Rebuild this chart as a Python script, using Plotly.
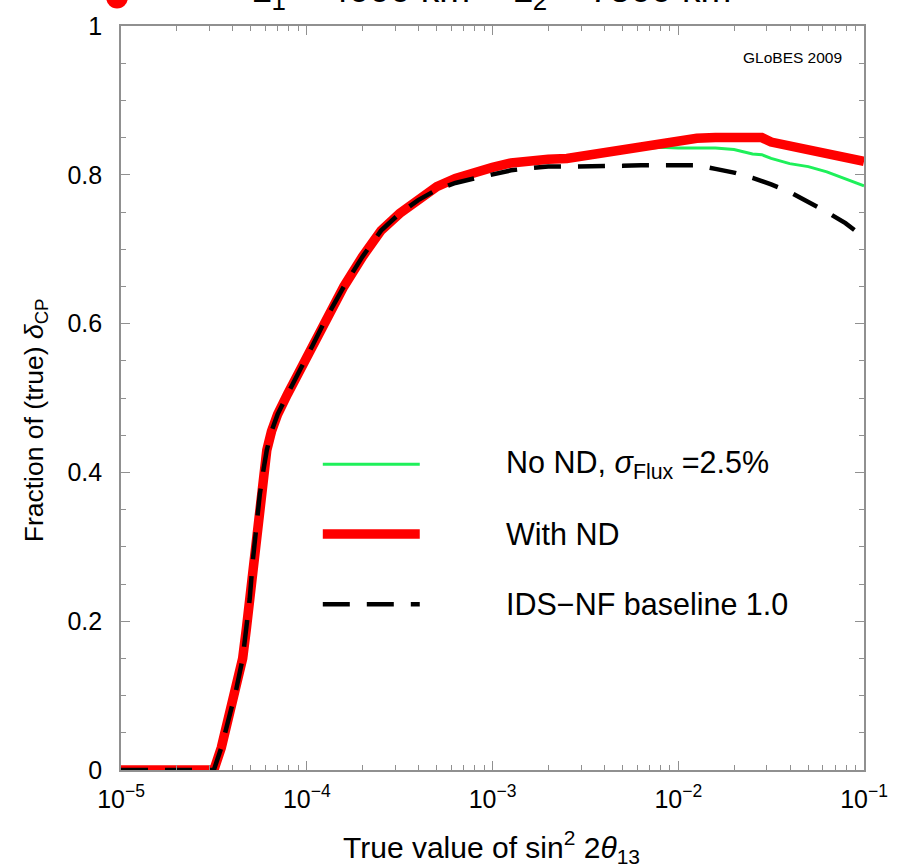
import plotly.graph_objects as go

# log10 of true sin^2(2 theta13)
log10_s22t13 = [-5.0, -4.8, -4.6, -4.5, -4.46, -4.42, -4.38, -4.345, -4.325, -4.307,
                -4.291, -4.275, -4.253, -4.232, -4.215, -4.19, -4.157, -4.104, -4.04, -3.97,
                -3.90, -3.80, -3.70, -3.60, -3.50, -3.40, -3.30,
                -3.20, -3.10, -3.00, -2.90, -2.80, -2.70, -2.60, -2.50, -2.40, -2.30,
                -2.20, -2.10, -2.00, -1.90, -1.80, -1.70, -1.60, -1.55, -1.50, -1.40,
                -1.30, -1.20, -1.10, -1.00]

with_nd = [0, 0, 0, 0, 0.03, 0.068, 0.108, 0.15, 0.19, 0.23,
           0.28, 0.32, 0.37, 0.405, 0.43, 0.455, 0.478, 0.505, 0.535, 0.57,
           0.605, 0.65, 0.69, 0.725, 0.748, 0.768, 0.784,
           0.795, 0.804, 0.81, 0.816, 0.82, 0.821, 0.822, 0.826, 0.830, 0.834,
           0.838, 0.842, 0.847, 0.849, 0.850, 0.850, 0.850, 0.850, 0.844, 0.839,
           0.833, 0.828, 0.823, 0.818]

no_nd = [0, 0, 0, 0, 0.03, 0.068, 0.108, 0.135, 0.172, 0.23,
         0.28, 0.32, 0.37, 0.405, 0.43, 0.455, 0.478, 0.505, 0.535, 0.57,
         0.605, 0.65, 0.69, 0.725, 0.748, 0.768, 0.784,
         0.795, 0.804, 0.81, 0.816, 0.82, 0.821, 0.822, 0.826, 0.830, 0.832,
         0.835, 0.837, 0.836, 0.836, 0.836, 0.834, 0.828, 0.827, 0.822, 0.815,
         0.811, 0.804, 0.795, 0.785]

ids_nf = [0, 0, 0, 0, 0.03, 0.068, 0.108, 0.15, 0.19, 0.23,
          0.28, 0.32, 0.37, 0.405, 0.43, 0.455, 0.478, 0.505, 0.535, 0.57,
          0.605, 0.65, 0.69, 0.725, 0.748, 0.766, 0.780,
          0.789, 0.795, 0.800, 0.806, 0.809, 0.811, 0.811, 0.811, 0.811, 0.812,
          0.813, 0.813, 0.813, 0.813, 0.808, 0.803, 0.796, 0.792, 0.787, 0.777,
          0.764, 0.750, 0.735, 0.716]

legend_labels = ["No ND, <i>σ</i><sub>Flux</sub> =2.5%", "With ND", "IDS−NF baseline 1.0"]
x_tick_exps = [-5, -4, -3, -2, -1]
x_minor_mults = [2, 3, 4, 5, 6, 7, 8, 9]
y_tick_vals = [0, 0.2, 0.4, 0.6, 0.8, 1]

x = [10 ** e for e in log10_s22t13]

FONT = "Liberation Sans, Arial, sans-serif"
GREEN = "#1ef05a"
RED = "#ff0000"
FRAME = "#909090"

fig = go.Figure()
fig.add_trace(go.Scatter(x=x, y=no_nd, mode="lines", line=dict(color=GREEN, width=3), showlegend=False))
fig.add_trace(go.Scatter(x=x, y=with_nd, mode="lines", line=dict(color=RED, width=9.5), showlegend=False))
fig.add_trace(go.Scatter(x=x, y=ids_nf, mode="lines",
                         line=dict(color="black", width=4.5, dash="27px,17px"), showlegend=False))
# carrier for the minor-tick overlay axis
fig.add_trace(go.Scatter(x=[], y=[], xaxis="x2", showlegend=False, hoverinfo="skip"))

axis_common = dict(showline=True, linecolor=FRAME, linewidth=1.6, mirror="ticks",
                   ticks="inside", tickcolor=FRAME, tickwidth=1.2, showgrid=False,
                   zeroline=False, tickfont=dict(family=FONT, size=25, color="black"))

fig.update_layout(
    xaxis=dict(type="log", range=[-5, -1],
               tickvals=[10 ** e for e in x_tick_exps],
               ticktext=[f"10<sup>−{abs(e)}</sup>" for e in x_tick_exps],
               ticklen=9, ticklabelstandoff=6, **axis_common),
    xaxis2=dict(type="log", range=[-5, -1], overlaying="x", side="bottom", anchor="y",
                tickvals=[m * 10 ** e for e in x_tick_exps[:-1] for m in x_minor_mults],
                showticklabels=False, ticks="inside", ticklen=5, tickcolor=FRAME, tickwidth=1.2,
                mirror="ticks", showline=True, linecolor=FRAME, linewidth=1.6,
                showgrid=False, zeroline=False),
    yaxis=dict(range=[0, 1], tickvals=y_tick_vals,
               ticktext=[f"{v:g}" for v in y_tick_vals],
               ticklen=9, ticklabelstandoff=12,
               minor=dict(ticks="inside", ticklen=5, dtick=0.05, tickcolor=FRAME, showgrid=False),
               **axis_common),
)

# legend drawn manually
leg_y = [0.4111, 0.3173, 0.2227]
leg_styles = [dict(color=GREEN, width=3), dict(color=RED, width=9.5),
              dict(color="black", width=4.5, dash="27px,17px")]
for yy, st, lab in zip(leg_y, leg_styles, legend_labels):
    fig.add_shape(type="line", xref="paper", yref="paper", x0=0.2716, x1=0.4021, y0=yy, y1=yy,
                  line=st)
    fig.add_annotation(xref="paper", yref="paper", x=0.5153, y=yy, xanchor="left", yanchor="middle",
                       text=lab, showarrow=False, font=dict(family=FONT, size=30.5, color="black"))

fig.add_annotation(xref="paper", yref="paper", x=0.973, y=0.957, xanchor="right", yanchor="middle",
                   text="GLoBES 2009", showarrow=False, font=dict(family=FONT, size=15.5, color="black"))

# axis titles
fig.add_annotation(xref="paper", yref="paper", x=0.4987, y=-0.104, xanchor="center", yanchor="middle",
                   text="True value of sin<sup>2</sup> 2<i>θ</i><sub>13</sub>", showarrow=False,
                   font=dict(family=FONT, size=30, color="black"))
fig.add_annotation(xref="paper", yref="paper", x=-0.1145, y=0.47, xanchor="center", yanchor="middle",
                   text="Fraction of (true) <i>δ</i><sub>CP</sub>", textangle=-90, showarrow=False,
                   font=dict(family=FONT, size=26.5, color="black"))

# clipped title at top
fig.add_annotation(xref="paper", yref="paper", x=0.498, y=1.0125, xanchor="center", yanchor="bottom",
                   text="L<sub>1</sub> = 4000 km + L<sub>2</sub> = 7500 km", showarrow=False,
                   font=dict(family=FONT, size=37, color="black"))
fig.add_shape(type="circle", xref="paper", yref="paper", x0=-0.020, x1=0.0093, y0=1.0235, y1=1.0535,
              fillcolor=RED, line=dict(color=RED, width=0))

fig.update_layout(width=900, height=868, margin=dict(l=121, r=28, t=20, b=98),
                  paper_bgcolor="white", plot_bgcolor="white",
                  font=dict(family=FONT, color="black"))

fig.write_html("out.html")
